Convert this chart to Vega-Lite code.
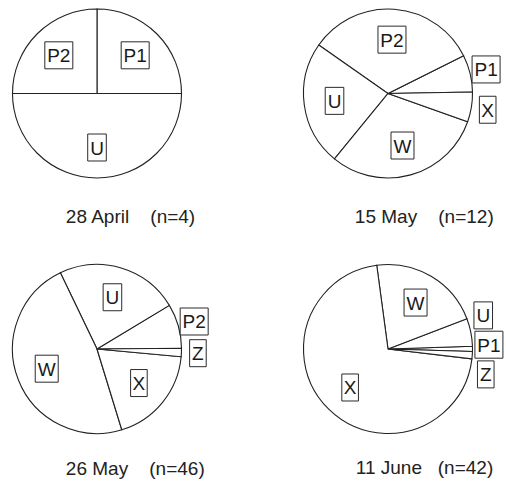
{
  "$schema": "https://vega.github.io/schema/vega-lite/v6.json",
  "padding": 0,
  "background": "white",
  "config": {"view": {"stroke": null}},
  "data": {"values": [
    {"pie": "28 April", "cat": "P1", "pct": 25},
    {"pie": "28 April", "cat": "P2", "pct": 25},
    {"pie": "28 April", "cat": "U", "pct": 50},
    {"pie": "15 May", "cat": "P1", "pct": 7.1},
    {"pie": "15 May", "cat": "P2", "pct": 32.9},
    {"pie": "15 May", "cat": "U", "pct": 23.8},
    {"pie": "15 May", "cat": "W", "pct": 30.5},
    {"pie": "15 May", "cat": "X", "pct": 5.7},
    {"pie": "26 May", "cat": "P2", "pct": 8.5},
    {"pie": "26 May", "cat": "U", "pct": 23.5},
    {"pie": "26 May", "cat": "W", "pct": 47.6},
    {"pie": "26 May", "cat": "X", "pct": 18.8},
    {"pie": "26 May", "cat": "Z", "pct": 1.6},
    {"pie": "11 June", "cat": "P1", "pct": 1.0},
    {"pie": "11 June", "cat": "U", "pct": 5.3},
    {"pie": "11 June", "cat": "W", "pct": 21.3},
    {"pie": "11 June", "cat": "X", "pct": 71.0},
    {"pie": "11 June", "cat": "Z", "pct": 1.4}
  ]},
  "transform": [
    {"window": [{"op": "sum", "field": "pct", "as": "c1"}], "groupby": ["pie"], "sort": [{"field": "cat"}], "frame": [null, 0]},
    {"calculate": "datum.c1 - datum.pct", "as": "c0"},
    {"calculate": "datum.pie == '15 May' ? 89 : datum.pie == '26 May' ? 89.5 : datum.pie == '11 June' ? 91.7 : 90", "as": "rot"},
    {"calculate": "((datum.rot - 3.6 * (datum.c0 + datum.pct / 2)) % 360 + 360) % 360", "as": "mid"},
    {"calculate": "datum.pct < 12.5", "as": "out"},
    {"joinaggregate": [
      {"op": "mean", "field": "mid", "as": "mm"},
      {"op": "min", "field": "mid", "as": "mn"},
      {"op": "max", "field": "mid", "as": "mx"},
      {"op": "count", "as": "k"}
    ], "groupby": ["pie", "out"]},
    {"window": [{"op": "row_number", "as": "i"}], "groupby": ["pie", "out"], "sort": [{"field": "mid"}]},
    {"calculate": "datum.out ? datum.mm + (datum.i - 1 - (datum.k - 1) / 2) * (datum.k > 1 ? max(17, (datum.mx - datum.mn) / (datum.k - 1)) : 0) : datum.mid", "as": "la"},
    {"calculate": "datum.out ? 101 : 54", "as": "lr"},
    {"calculate": "datum.lr * sin(datum.la * PI / 180)", "as": "lx"},
    {"calculate": "datum.lr * cos(datum.la * PI / 180)", "as": "ly"}
  ],
  "columns": 2,
  "bounds": "flush",
  "spacing": {"row": 68.5, "column": 97},
  "concat": [
    {
      "width": 194, "height": 187,
      "title": {"text": "28 April\u00a0\u00a0\u00a0\u00a0(n=4)", "orient": "bottom", "anchor": "middle", "frame": "group", "dx": 33.5, "offset": 35.5, "baseline": "alphabetic", "font": "Liberation Sans", "fontSize": 19, "fontWeight": "normal", "color": "#222"},
      "transform": [{"filter": "datum.pie == '28 April'"}],
      "layer": [
        {"mark": {"type": "arc", "radius": 84.5, "fill": "white", "stroke": "#222", "strokeWidth": 1.1},
         "encoding": {"theta": {"field": "c0", "type": "quantitative", "scale": {"domain": [0, 100], "range": [1.5708, -4.7124]}}, "theta2": {"field": "c1"}}},
        {"mark": {"type": "point", "filled": true, "fill": "white", "stroke": "#2a2a2a", "strokeWidth": 1, "opacity": 1, "size": 784},
         "encoding": {
           "x": {"field": "lx", "type": "quantitative", "scale": {"domain": [-97, 97], "nice": false, "zero": false}, "axis": null},
           "y": {"field": "ly", "type": "quantitative", "scale": {"domain": [-93.5, 93.5], "nice": false, "zero": false}, "axis": null},
           "shape": {"field": "cat", "type": "nominal", "legend": null, "scale": {"domain": ["P1", "P2", "U", "W", "X", "Z"], "range": ["M-1,-0.964H1V0.964H-1Z", "M-1,-0.964H1V0.964H-1Z", "M-0.664,-0.964H0.664V0.964H-0.664Z", "M-0.821,-0.964H0.821V0.964H-0.821Z", "M-0.593,-0.964H0.593V0.964H-0.593Z", "M-0.593,-0.964H0.593V0.964H-0.593Z"]}}
         }},
        {"mark": {"type": "text", "font": "Liberation Sans", "fontSize": 19, "baseline": "middle", "align": "center", "color": "#1a1a1a", "dy": 1},
         "encoding": {"x": {"field": "lx", "type": "quantitative"}, "y": {"field": "ly", "type": "quantitative"}, "text": {"field": "cat"}}}
      ]
    },
    {
      "width": 194, "height": 187,
      "title": {"text": "15 May\u00a0\u00a0\u00a0\u00a0(n=12)", "orient": "bottom", "anchor": "middle", "frame": "group", "dx": 36.3, "offset": 35.5, "baseline": "alphabetic", "font": "Liberation Sans", "fontSize": 19, "fontWeight": "normal", "color": "#222"},
      "transform": [{"filter": "datum.pie == '15 May'"}],
      "layer": [
        {"mark": {"type": "arc", "radius": 84.5, "fill": "white", "stroke": "#222", "strokeWidth": 1.1},
         "encoding": {"theta": {"field": "c0", "type": "quantitative", "scale": {"domain": [0, 100], "range": [1.5533, -4.7299]}}, "theta2": {"field": "c1"}}},
        {"mark": {"type": "point", "filled": true, "fill": "white", "stroke": "#2a2a2a", "strokeWidth": 1, "opacity": 1, "size": 784},
         "encoding": {
           "x": {"field": "lx", "type": "quantitative", "scale": {"domain": [-97, 97], "nice": false, "zero": false}, "axis": null},
           "y": {"field": "ly", "type": "quantitative", "scale": {"domain": [-93.5, 93.5], "nice": false, "zero": false}, "axis": null},
           "shape": {"field": "cat", "type": "nominal", "legend": null, "scale": {"domain": ["P1", "P2", "U", "W", "X", "Z"], "range": ["M-1,-0.964H1V0.964H-1Z", "M-1,-0.964H1V0.964H-1Z", "M-0.664,-0.964H0.664V0.964H-0.664Z", "M-0.821,-0.964H0.821V0.964H-0.821Z", "M-0.593,-0.964H0.593V0.964H-0.593Z", "M-0.593,-0.964H0.593V0.964H-0.593Z"]}}
         }},
        {"mark": {"type": "text", "font": "Liberation Sans", "fontSize": 19, "baseline": "middle", "align": "center", "color": "#1a1a1a", "dy": 1},
         "encoding": {"x": {"field": "lx", "type": "quantitative"}, "y": {"field": "ly", "type": "quantitative"}, "text": {"field": "cat"}}}
      ]
    },
    {
      "width": 194, "height": 187,
      "title": {"text": "26 May\u00a0\u00a0\u00a0\u00a0(n=46)", "orient": "bottom", "anchor": "middle", "frame": "group", "dx": 38.3, "offset": 32.5, "baseline": "alphabetic", "font": "Liberation Sans", "fontSize": 19, "fontWeight": "normal", "color": "#222"},
      "transform": [{"filter": "datum.pie == '26 May'"}],
      "layer": [
        {"mark": {"type": "arc", "radius": 84.5, "fill": "white", "stroke": "#222", "strokeWidth": 1.1},
         "encoding": {"theta": {"field": "c0", "type": "quantitative", "scale": {"domain": [0, 100], "range": [1.5621, -4.7211]}}, "theta2": {"field": "c1"}}},
        {"mark": {"type": "point", "filled": true, "fill": "white", "stroke": "#2a2a2a", "strokeWidth": 1, "opacity": 1, "size": 784},
         "encoding": {
           "x": {"field": "lx", "type": "quantitative", "scale": {"domain": [-97, 97], "nice": false, "zero": false}, "axis": null},
           "y": {"field": "ly", "type": "quantitative", "scale": {"domain": [-93.5, 93.5], "nice": false, "zero": false}, "axis": null},
           "shape": {"field": "cat", "type": "nominal", "legend": null, "scale": {"domain": ["P1", "P2", "U", "W", "X", "Z"], "range": ["M-1,-0.964H1V0.964H-1Z", "M-1,-0.964H1V0.964H-1Z", "M-0.664,-0.964H0.664V0.964H-0.664Z", "M-0.821,-0.964H0.821V0.964H-0.821Z", "M-0.593,-0.964H0.593V0.964H-0.593Z", "M-0.593,-0.964H0.593V0.964H-0.593Z"]}}
         }},
        {"mark": {"type": "text", "font": "Liberation Sans", "fontSize": 19, "baseline": "middle", "align": "center", "color": "#1a1a1a", "dy": 1},
         "encoding": {"x": {"field": "lx", "type": "quantitative"}, "y": {"field": "ly", "type": "quantitative"}, "text": {"field": "cat"}}}
      ]
    },
    {
      "width": 194, "height": 187,
      "title": {"text": "11 June\u00a0\u00a0\u00a0(n=42)", "orient": "bottom", "anchor": "middle", "frame": "group", "dx": 36.5, "offset": 31, "baseline": "alphabetic", "font": "Liberation Sans", "fontSize": 19, "fontWeight": "normal", "color": "#222"},
      "transform": [{"filter": "datum.pie == '11 June'"}],
      "layer": [
        {"mark": {"type": "arc", "radius": 84.5, "fill": "white", "stroke": "#222", "strokeWidth": 1.1},
         "encoding": {"theta": {"field": "c0", "type": "quantitative", "scale": {"domain": [0, 100], "range": [1.6005, -4.6827]}}, "theta2": {"field": "c1"}}},
        {"mark": {"type": "point", "filled": true, "fill": "white", "stroke": "#2a2a2a", "strokeWidth": 1, "opacity": 1, "size": 784},
         "encoding": {
           "x": {"field": "lx", "type": "quantitative", "scale": {"domain": [-97, 97], "nice": false, "zero": false}, "axis": null},
           "y": {"field": "ly", "type": "quantitative", "scale": {"domain": [-93.5, 93.5], "nice": false, "zero": false}, "axis": null},
           "shape": {"field": "cat", "type": "nominal", "legend": null, "scale": {"domain": ["P1", "P2", "U", "W", "X", "Z"], "range": ["M-1,-0.964H1V0.964H-1Z", "M-1,-0.964H1V0.964H-1Z", "M-0.664,-0.964H0.664V0.964H-0.664Z", "M-0.821,-0.964H0.821V0.964H-0.821Z", "M-0.593,-0.964H0.593V0.964H-0.593Z", "M-0.593,-0.964H0.593V0.964H-0.593Z"]}}
         }},
        {"mark": {"type": "text", "font": "Liberation Sans", "fontSize": 19, "baseline": "middle", "align": "center", "color": "#1a1a1a", "dy": 1},
         "encoding": {"x": {"field": "lx", "type": "quantitative"}, "y": {"field": "ly", "type": "quantitative"}, "text": {"field": "cat"}}}
      ]
    }
  ]
}
